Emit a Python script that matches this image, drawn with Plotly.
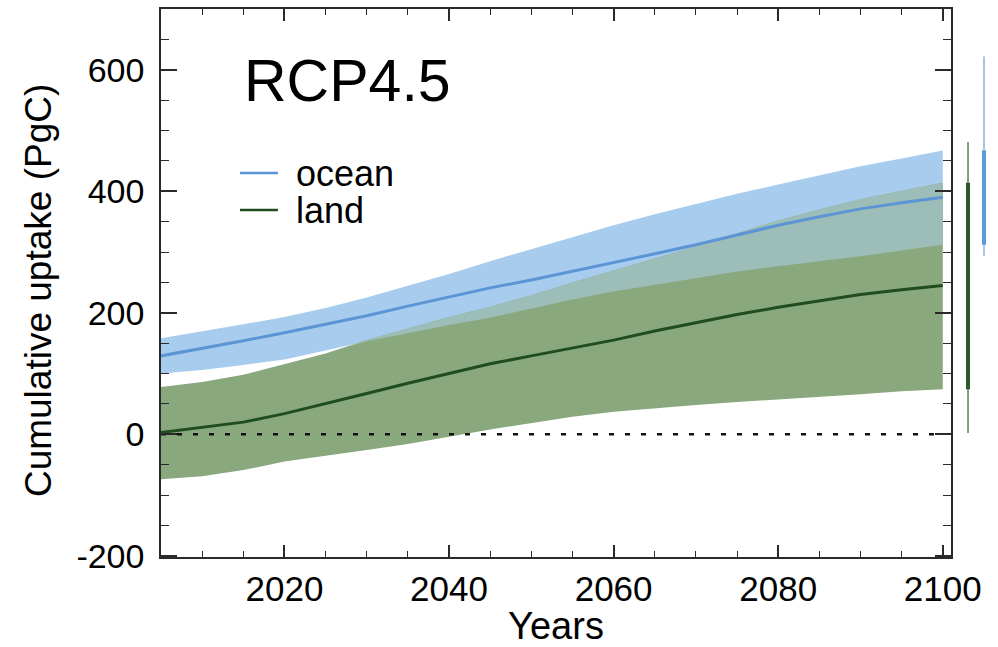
import numpy as np
import plotly.graph_objects as go

# Years sampled every 5 years
years = [2005, 2010, 2015, 2020, 2025, 2030, 2035, 2040, 2045, 2050,
         2055, 2060, 2065, 2070, 2075, 2080, 2085, 2090, 2095, 2100]

# Cumulative ocean uptake (PgC): multi-model mean and spread
ocean_mean = [129, 141, 154, 167, 181, 195, 211, 226, 241, 254,
              268, 282, 297, 312, 328, 344, 358, 371, 381, 390]
ocean_hi = [158, 169, 181, 193, 208, 225, 244, 264, 285, 305,
            325, 344, 362, 379, 396, 411, 426, 441, 454, 467]
ocean_lo = [100, 106, 114, 123, 138, 153, 167, 180, 192, 207,
            222, 235, 246, 257, 268, 277, 285, 293, 302, 312]

# Cumulative land uptake (PgC): multi-model mean and spread
land_mean = [3, 11, 20, 34, 50, 67, 84, 100, 116, 129,
             142, 155, 170, 184, 197, 209, 220, 230, 238, 245]
land_hi = [78, 86, 98, 116, 133, 155, 174, 193, 210, 229,
           250, 270, 289, 309, 331, 352, 370, 387, 401, 414]
land_lo = [-74, -69, -59, -45, -35, -26, -16, -4, 8, 19,
           29, 37, 43, 48, 53, 57, 62, 66, 71, 74]

# Full model range in 2100 (thin side bars)
ocean_full_2100 = [294, 622]
land_full_2100 = [2, 481]

# Side-bar categories on their own small axis
side_pos = {"land": 1, "ocean": 2}

# Tick labels (plain hyphen for negatives)
y_ticks = [-200, 0, 200, 400, 600]
y_ticktext = ["-200", "0", "200", "400", "600"]
x_ticks = [2020, 2040, 2060, 2080, 2100]

BLUE_BAND = "#a8ccee"
GREEN_BAND = "#89a87d"
OVERLAP = "#9dbdb8"
BLUE_LINE = "#5b95d5"
GREEN_LINE = "#1f4d1f"
FONT = "Liberation Sans"
AX = "#2a2a2a"

fig = go.Figure()


def band(x, lo, hi, color):
    xs = list(x) + list(x)[::-1]
    ys = list(hi) + list(lo)[::-1]
    return go.Scatter(x=xs, y=ys, fill="toself", fillcolor=color,
                      line=dict(width=0), mode="lines", showlegend=False,
                      hoverinfo="skip")


fig.add_trace(band(years, ocean_lo, ocean_hi, BLUE_BAND))
fig.add_trace(band(years, land_lo, land_hi, GREEN_BAND))

# Region where the two spreads overlap
ov_hi = np.minimum(ocean_hi, land_hi)
ov_lo = np.minimum(np.maximum(ocean_lo, land_lo), ov_hi)
fig.add_trace(band(years, ov_lo, ov_hi, OVERLAP))

# Zero reference line
fig.add_trace(go.Scatter(x=[years[0], years[-1]], y=[0, 0], mode="lines",
                         line=dict(color="#111111", width=2.5, dash="5px,11px"),
                         showlegend=False, hoverinfo="skip"))

series = [("ocean", ocean_mean, BLUE_LINE), ("land", land_mean, GREEN_LINE)]
for name, vals, col in series:
    fig.add_trace(go.Scatter(x=years, y=vals, mode="lines", name=name,
                             line=dict(color=col, width=3), showlegend=False))

# 2100 ranges beside the plot: thin = full range, thick = band
fig.add_trace(go.Scatter(x=[side_pos["land"]] * 2, y=land_full_2100,
                         xaxis="x2", yaxis="y", mode="lines",
                         line=dict(color="#5d7d5d", width=1.5),
                         showlegend=False, hoverinfo="skip"))
fig.add_trace(go.Scatter(x=[side_pos["land"]] * 2, y=[land_lo[-1], land_hi[-1]],
                         xaxis="x2", yaxis="y", mode="lines",
                         line=dict(color="#2b5a2b", width=4),
                         showlegend=False, hoverinfo="skip"))
fig.add_trace(go.Scatter(x=[side_pos["ocean"]] * 2, y=ocean_full_2100,
                         xaxis="x2", yaxis="y", mode="lines",
                         line=dict(color="#a3c6ea", width=2),
                         showlegend=False, hoverinfo="skip"))
fig.add_trace(go.Scatter(x=[side_pos["ocean"]] * 2, y=[ocean_lo[-1], ocean_hi[-1]],
                         xaxis="x2", yaxis="y", mode="lines",
                         line=dict(color="#5b9bd8", width=4),
                         showlegend=False, hoverinfo="skip"))

# Scenario label
fig.add_annotation(text="RCP4.5", xref="x domain", yref="y domain",
                   x=0.103, y=0.868, xanchor="left", yanchor="middle",
                   showarrow=False, font=dict(family=FONT, size=59, color="black"))

# Y-axis title
fig.add_annotation(text="Cumulative uptake (PgC)", xref="paper", yref="y domain",
                   x=-0.1477, y=0.487, xanchor="center", yanchor="middle",
                   textangle=-90, showarrow=False,
                   font=dict(family=FONT, size=37, color="black"))

# Legend keys and labels
legend_rows = [0.7007, 0.633]
for (name, _, col), ly in zip(series, legend_rows):
    fig.add_shape(type="line", xref="x domain", yref="y domain",
                  x0=0.100, x1=0.148, y0=ly, y1=ly,
                  line=dict(color=col, width=2.5))
    fig.add_annotation(text=name, xref="x domain", yref="y domain",
                       x=0.168, y=ly, xanchor="left", yanchor="middle",
                       showarrow=False,
                       font=dict(family=FONT, size=36, color="black"))

fig.update_layout(
    width=998, height=647,
    margin=dict(l=161, r=4, t=9, b=90, autoexpand=False),
    paper_bgcolor="white", plot_bgcolor="white",
    font=dict(family=FONT, size=34, color="black"),
    showlegend=False,
    xaxis=dict(domain=[0, 790 / 833], range=[2005, 2101], automargin=False,
               tickvals=x_ticks,
               ticks="inside", ticklen=12, tickwidth=1.5, tickcolor=AX,
               minor=dict(dtick=5, tick0=2005, ticks="inside", ticklen=6,
                          tickwidth=1.2, tickcolor=AX),
               showline=True, linecolor=AX, linewidth=1.5, mirror="ticks",
               showgrid=False, zeroline=False,
               title=dict(text="Years", standoff=6,
                          font=dict(family=FONT, size=38)),
               tickfont=dict(family=FONT, size=35)),
    xaxis2=dict(domain=[0.955, 1.0], range=[0.281, 2.625], anchor="y",
                visible=False, showgrid=False, zeroline=False, automargin=False),
    yaxis=dict(range=[-202, 700], tickvals=y_ticks, ticktext=y_ticktext,
               automargin=False,
               ticks="inside", ticklen=16, tickwidth=1.5, tickcolor=AX,
               minor=dict(dtick=50, tick0=0, ticks="inside", ticklen=8,
                          tickwidth=1.2, tickcolor=AX),
               showline=True, linecolor=AX, linewidth=1.5, mirror="ticks",
               showgrid=False, zeroline=False, ticklabelstandoff=8,
               tickfont=dict(family=FONT, size=34)),
)

fig.write_html("out.html")
